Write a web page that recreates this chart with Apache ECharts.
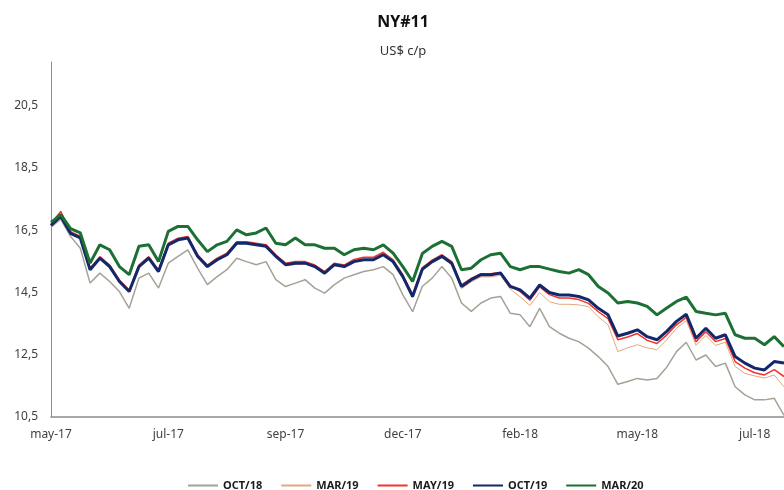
<!DOCTYPE html>
<html>
<head>
<meta charset="utf-8">
<script src="https://cdn.jsdelivr.net/npm/echarts@6/dist/echarts.min.js"></script>
<style>
  html, body { margin: 0; padding: 0; background: #fff; }
  #chart { width: 784px; height: 490px; }
</style>
</head>
<body>
<div id="chart"></div>
<script>
// weekly samples, may-17 .. aug-18
const monthLabels = ['may-17', 'jul-17', 'sep-17', 'dec-17', 'feb-18', 'may-18', 'jul-18'];
const weeksPerLabel = 12;

const oct18 = [16.6, 16.85, 16.3, 15.92, 14.8, 15.12, 14.85, 14.53, 13.99, 14.96, 15.12, 14.64,
  15.44, 15.66, 15.87, 15.28, 14.75, 15.01, 15.23, 15.6, 15.49, 15.39, 15.49, 14.91,
  14.69, 14.8, 14.91, 14.64, 14.48, 14.75, 14.96, 15.07, 15.17, 15.23, 15.33, 15.07,
  14.42, 13.88, 14.7, 14.96, 15.33, 14.96, 14.16, 13.89, 14.16, 14.32, 14.37, 13.83,
  13.78, 13.4, 13.99, 13.4, 13.19, 13.03, 12.92, 12.71, 12.44, 12.12, 11.55, 11.64,
  11.74, 11.69, 11.74, 12.1, 12.6, 12.9, 12.33, 12.49, 12.12, 12.23, 11.47, 11.21,
  11.05, 11.05, 11.1, 10.55];

const mar19 = [16.72, 17.12, 16.42, 16.28, 15.22, 15.62, 15.4, 14.88, 14.5, 15.35, 15.62, 15.15,
  16.06, 16.2, 16.27, 15.66, 15.3, 15.52, 15.7, 16.1, 16.1, 16.04, 15.98, 15.64,
  15.36, 15.4, 15.42, 15.3, 15.1, 15.38, 15.33, 15.52, 15.62, 15.6, 15.76, 15.5,
  14.98, 14.33, 15.2, 15.44, 15.62, 15.38, 14.62, 14.84, 15.0, 15.0, 15.05, 14.6,
  14.36, 14.08, 14.5, 14.2, 14.12, 14.12, 14.1, 14.04, 13.72, 13.46, 12.6, 12.72,
  12.82, 12.72, 12.66, 12.98, 13.35, 13.6, 12.8, 13.12, 12.8, 12.9, 12.12, 11.9,
  11.82, 11.75, 11.85, 11.47];

const may19 = [16.7, 17.1, 16.45, 16.3, 15.28, 15.65, 15.38, 14.9, 14.58, 15.38, 15.65, 15.22,
  16.08, 16.24, 16.3, 15.71, 15.38, 15.6, 15.76, 16.13, 16.13, 16.08, 16.03, 15.71,
  15.44, 15.49, 15.49, 15.38, 15.17, 15.44, 15.38, 15.56, 15.63, 15.63, 15.79, 15.55,
  15.06, 14.42, 15.3, 15.54, 15.71, 15.49, 14.74, 14.95, 15.1, 15.1, 15.15, 14.72,
  14.53, 14.25, 14.68, 14.43, 14.32, 14.32, 14.27, 14.15, 13.88, 13.66, 12.98, 13.07,
  13.18, 12.96, 12.86, 13.13, 13.46, 13.7, 12.92, 13.24, 12.92, 13.02, 12.28, 12.07,
  11.92, 11.85, 12.02, 11.8];

const oct19 = [16.65, 16.95, 16.4, 16.25, 15.23, 15.6, 15.33, 14.85, 14.53, 15.33, 15.6, 15.17,
  16.03, 16.19, 16.25, 15.66, 15.33, 15.55, 15.71, 16.08, 16.08, 16.03, 15.98, 15.66,
  15.39, 15.44, 15.44, 15.33, 15.12, 15.39, 15.33, 15.49, 15.55, 15.55, 15.71, 15.49,
  15.01, 14.37, 15.25, 15.49, 15.66, 15.44, 14.69, 14.91, 15.07, 15.07, 15.12, 14.69,
  14.58, 14.32, 14.74, 14.5, 14.42, 14.42, 14.37, 14.26, 13.99, 13.78, 13.1, 13.19,
  13.3, 13.08, 12.98, 13.25, 13.57, 13.8, 13.03, 13.35, 13.03, 13.14, 12.44, 12.23,
  12.07, 12.01, 12.28, 12.23];

const mar20 = [16.75, 17.0, 16.55, 16.41, 15.44, 16.03, 15.87, 15.33, 15.07, 15.98, 16.03, 15.49,
  16.46, 16.62, 16.62, 16.19, 15.81, 16.03, 16.14, 16.51, 16.35, 16.41, 16.57, 16.08,
  16.03, 16.25, 16.03, 16.03, 15.92, 15.92, 15.71, 15.87, 15.92, 15.87, 16.03, 15.76,
  15.33, 14.85, 15.75, 15.98, 16.14, 15.98, 15.23, 15.28, 15.55, 15.71, 15.76, 15.33,
  15.23, 15.33, 15.33, 15.25, 15.17, 15.12, 15.23, 15.07, 14.69, 14.48, 14.16, 14.21,
  14.16, 14.05, 13.78, 14.0, 14.21, 14.35, 13.89, 13.83, 13.78, 13.83, 13.14, 13.03,
  13.03, 12.82, 13.08, 12.76];

const weeks = oct18.map((v, i) => 'w' + i);

const font = "'Noto Sans', 'DejaVu Sans', sans-serif";

function lineSeries(name, data, color, width) {
  return {
    name: name,
    type: 'line',
    data: data,
    symbol: 'none',
    smooth: false,
    lineStyle: { color: color, width: width },
    itemStyle: { color: color }
  };
}

const chart = echarts.init(document.getElementById('chart'));
chart.setOption({
  animation: false,
  textStyle: { fontFamily: font },
  title: [
    {
      text: 'NY#11',
      left: 398,
      top: 9,
      textAlign: 'center',
      textStyle: { fontSize: 16, fontWeight: 'bold', color: '#111', fontFamily: font }
    },
    {
      text: 'US$ c/p',
      left: 398,
      top: 40,
      textAlign: 'center',
      textStyle: { fontSize: 13, fontWeight: 'normal', color: '#333', fontFamily: font }
    }
  ],
  legend: {
    left: 182,
    top: 475,
    itemWidth: 30,
    itemHeight: 8,
    itemGap: 18,
    // hide the marker dot, keep only the line
    itemStyle: { opacity: 0 },
    textStyle: { fontSize: 11, fontWeight: 'bold', color: '#1a1a1a', fontFamily: font },
    data: ['OCT/18', 'MAR/19', 'MAY/19', 'OCT/19', 'MAR/20']
  },
  grid: { left: 51, right: 0, top: 62, bottom: 73 },
  xAxis: {
    type: 'category',
    data: weeks,
    boundaryGap: false,
    axisLine: { lineStyle: { color: '#8c8c8c', width: 1.5 } },
    axisTick: { show: false },
    axisLabel: {
      interval: weeksPerLabel - 1,
      margin: 12,
      fontSize: 12,
      color: '#404040',
      fontFamily: font,
      formatter: (v, idx) => monthLabels[idx / weeksPerLabel] || ''
    },
    splitLine: { show: false }
  },
  yAxis: {
    type: 'value',
    min: 10.5,
    max: 21.9,
    interval: 2,
    axisLine: { show: true, lineStyle: { color: '#8c8c8c', width: 1 } },
    axisTick: { show: false },
    splitLine: { show: false },
    axisLabel: {
      margin: 13,
      fontSize: 12,
      color: '#404040',
      fontFamily: font,
      showMaxLabel: false,
      formatter: v => v.toFixed(1).replace('.', ',')
    }
  },
  series: [
    lineSeries('OCT/18', oct18, '#a3a297', 1.5),
    lineSeries('MAR/19', mar19, '#e3a77c', 1),
    lineSeries('MAY/19', may19, '#f2322c', 1.5),
    lineSeries('OCT/19', oct19, '#12286a', 3),
    lineSeries('MAR/20', mar20, '#1d7034', 3)
  ]
});
</script>
</body>
</html>
